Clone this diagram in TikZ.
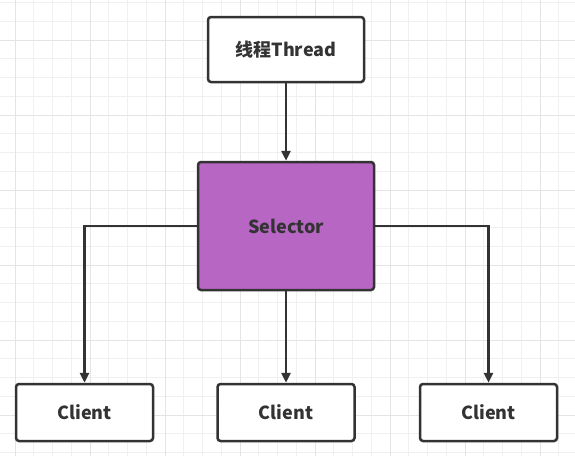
\documentclass[tikz,border=0pt]{standalone}
\usepackage{fontspec}
\setmainfont{Noto Sans CJK SC}
\usetikzlibrary{shapes.geometric, arrows.meta}
\definecolor{linegray}{HTML}{333333}
\definecolor{selpurple}{HTML}{B766C4}
\definecolor{gridminor}{HTML}{F0F0F0}
\definecolor{gridmajor}{HTML}{E4E4E4}
\tikzstyle{box} = [rectangle, rounded corners=3pt, minimum width=137pt, minimum height=57pt, text centered, draw=linegray, line width=2.5pt, fill=white, text=linegray, font=\fontsize{18}{21}\selectfont\bfseries]
\tikzstyle{threadbox} = [box, minimum width=156pt, minimum height=65pt]
\tikzstyle{selbox} = [box, minimum width=176pt, minimum height=128pt, fill=selpurple]
\tikzstyle{arrow} = [draw=linegray, line width=2.5pt, -{Triangle[length=10pt,width=9pt]}]

\begin{document}
\begin{tikzpicture}[x=1pt, y=-1pt]

\useasboundingbox (0,0) rectangle (575,456);
\fill[white] (0,0) rectangle (575,456);
% background grid
\foreach \x in {15,33.75,...,575} \draw[gridminor, line width=1pt] (\x,0) -- (\x,456);
\foreach \y in {2.5,21.25,...,456} \draw[gridminor, line width=1pt] (0,\y) -- (575,\y);
\foreach \x in {15,90,...,575} \draw[gridmajor, line width=1pt] (\x,0) -- (\x,456);
\foreach \y in {40,115,...,456} \draw[gridmajor, line width=1pt] (0,\y) -- (575,\y);

\node (thread) [threadbox] at (286,49.5) {线程Thread};
\node (selector) [selbox, below of=thread, node distance=176.5pt] {Selector};
\node (clientM) [box, below of=selector, node distance=186.5pt] {Client};
\node (clientL) [box, left of=clientM, node distance=201.5pt] {Client};
\node (clientR) [box, right of=clientM, node distance=202.5pt] {Client};

\draw [arrow] (thread) -- (selector);
\draw [arrow] (selector.west) -| (clientL.north);
\draw [arrow] (selector) -- (clientM);
\draw [arrow] (selector.east) -| (clientR.north);

\end{tikzpicture}
\end{document}
